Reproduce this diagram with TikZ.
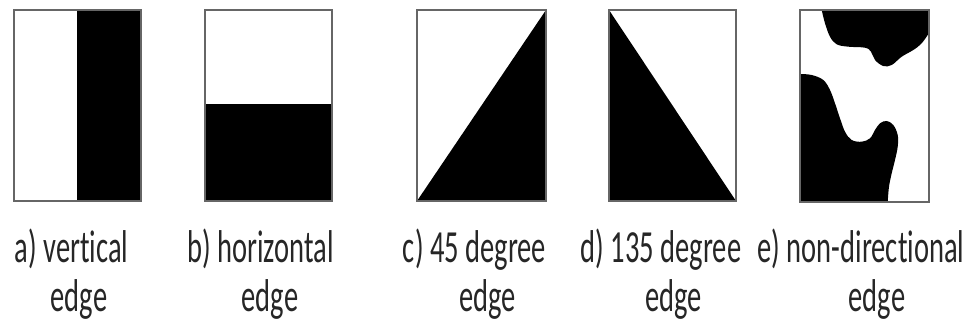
\documentclass[tikz,border=0pt]{standalone}
\usepackage{fontspec}
\newfontfamily\capfont[FakeStretch=0.62,RawFeature=-liga]{Carlito}
\begin{document}
\begin{tikzpicture}[x=1pt,y=-1pt,line cap=round,
  frame/.style={draw=black!60,line width=2pt},
  caption/.style={font={\capfont\fontsize{46}{52}\selectfont},text=black!85,anchor=base,inner sep=0pt}]
  \useasboundingbox (0,0) rectangle (967,323);
  % a) vertical edge
  \fill (77,10) rectangle (141,201);
  \draw[frame] (14,10) rectangle (141,201);
  % b) horizontal edge
  \fill (205,104) rectangle (332,201);
  \draw[frame] (205,10) rectangle (332,201);
  % c) 45 degree edge
  \fill (417,201) -- (546,10) -- (546,201) -- cycle;
  \draw[frame] (417,10) rectangle (546,201);
  % d) 135 degree edge
  \fill (609,10) -- (736,201) -- (609,201) -- cycle;
  \draw[frame] (609,10) rectangle (736,201);
  % e) non-directional edge
  \fill plot[smooth,tension=0.6] coordinates {(821.7,10) (825,23.3) (830,36.7) (836.7,44.3) (848.3,46.7) (865,47.7) (871,51.7) (875,60) (883.3,66) (891.7,65) (901.7,56.7) (913.3,50) (921.7,43.3) (929,33)} -- (929,10) -- cycle;
  \fill plot[smooth,tension=0.6] coordinates {(800,74) (811.7,75) (823.3,80) (830,90) (835,103.3) (840,118.3) (845,131.7) (851.7,140) (861.7,141.7) (870,138.3) (875,130) (880,123.3) (886.7,121) (893.3,125) (897.7,135) (897.7,146.7) (895,160) (891.7,173.3) (889,186.7) (887.7,202)} -- (800,202) -- cycle;
  \draw[frame] (800,10) rectangle (929,202);
  % captions
  \node[caption] (capA) at (71.5,263) {a) vertical};
  \node[caption] (edgeA) at (79,312) {edge};
  \node[caption] (capB) at (260.5,263) {b) horizontal};
  \node[caption] (edgeB) at (270,312) {edge};
  \node[caption] (capC) at (474.5,263) {c) 45 degree};
  \node[caption] (edgeC) at (487.5,312) {edge};
  \node[caption] (capD) at (661,263) {d) 135 degree};
  \node[caption] (edgeD) at (673.5,312) {edge};
  \node[caption] (capE) at (861,263) {e) non-directional};
  \node[caption] (edgeE) at (877,312) {edge};
\end{tikzpicture}
\end{document}
